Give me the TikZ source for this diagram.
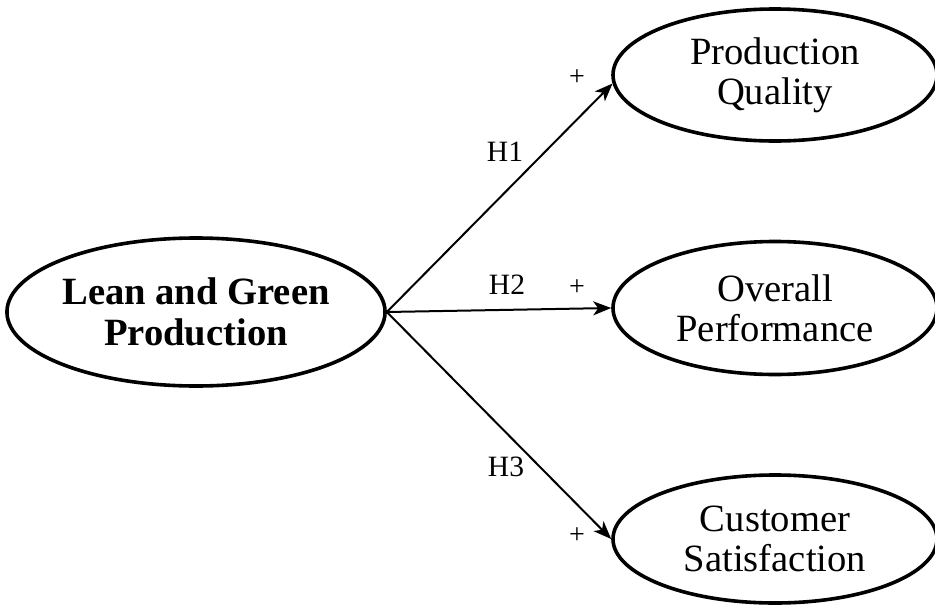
\documentclass[tikz,border=0pt]{standalone}
\usepackage{fontspec}
\setmainfont{Liberation Serif}
\usetikzlibrary{shapes.geometric,arrows.meta}
\begin{document}
\begin{tikzpicture}[x=1pt,y=-1pt,
  construct/.style={ellipse, draw, line width=3.6pt, inner sep=0pt,
    align=center, font=\fontsize{38.6}{40}\selectfont},
  path/.style={line width=2pt, -{Stealth[length=18pt,width=14pt,inset=5pt]}},
  hyp/.style={anchor=base, font=\fontsize{29.5}{30}\selectfont},
  sign/.style={font=\fontsize{28}{28}\selectfont}]
\useasboundingbox (0,0) rectangle (935,608);

% constructs
\node[construct, minimum width=368pt, minimum height=148pt,
  font=\fontsize{38.6}{41}\selectfont\bfseries] (lgp) at (196,312)
  {Lean and Green\\Production};
\node[construct, minimum width=324pt, minimum height=132pt] (pq) at (775,75)
  {Production\\Quality};
\node[construct, minimum width=324pt, minimum height=133pt] (op) at (775,308)
  {Overall\\Performance};
\node[construct, minimum width=324pt, minimum height=128pt] (cs) at (775,539)
  {Customer\\Satisfaction};

% hypothesised paths
\draw[path] (lgp.east) -- (pq.183);
\draw[path] (lgp.east) -- (op.west);
\draw[path] (lgp.east) -- (cs.west);

% path labels
\node[hyp] (h1) at (505,161) {H1};
\node[hyp] (h2) at (507,294) {H2};
\node[hyp] (h3) at (506,476) {H3};
\node[sign] (s1) at (577,78) {+};
\node[sign] (s2) at (577,288) {+};
\node[sign] (s3) at (577,536) {+};
\end{tikzpicture}
\end{document}
